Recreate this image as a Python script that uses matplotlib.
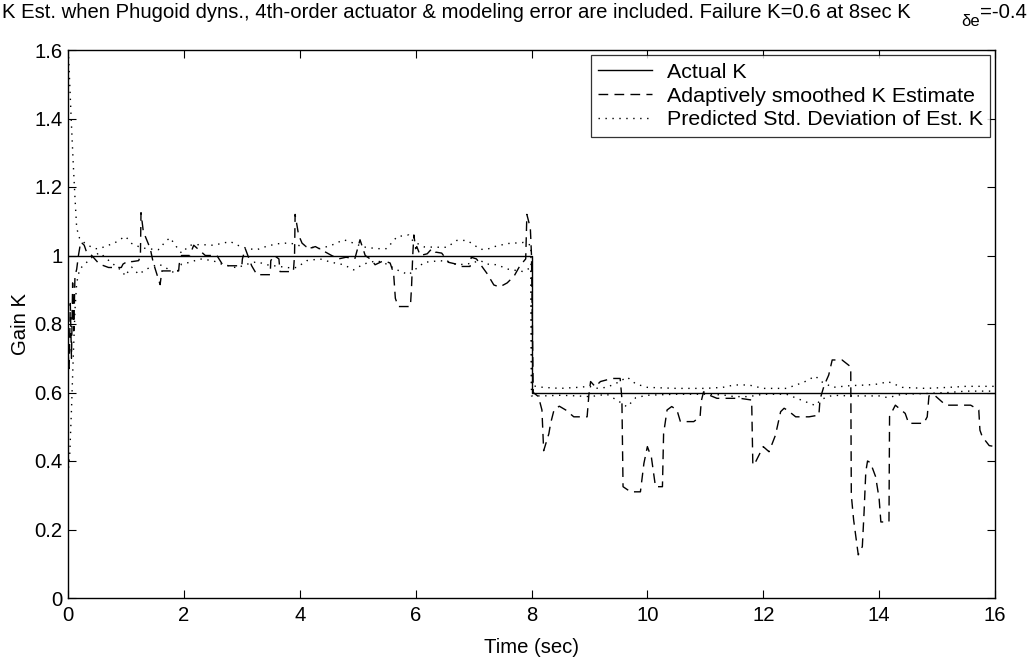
import matplotlib
matplotlib.use("Agg")
import matplotlib.pyplot as plt

plt.rcParams['font.family'] = ['Liberation Sans', 'DejaVu Sans']

# Actual gain: nominal 1.0, failure to 0.6 at t = 8 s
t_actual = [0.0, 8.0, 8.0, 16.0]
k_actual = [1.0, 1.0, 0.6, 0.6]

# Adaptively smoothed estimate of K
t_est = [0.00, 0.02, 0.04, 0.06, 0.08, 0.10, 0.12, 0.15, 0.18, 0.22, 0.28, 0.32,
         0.41, 0.54, 0.62, 0.70, 0.92, 0.95, 1.05, 1.10, 1.22, 1.25, 1.26, 1.30,
         1.42, 1.47, 1.59, 1.62, 1.91, 1.92, 1.96, 2.10, 2.17, 2.37, 2.57, 2.68,
         3.00, 3.01, 3.06, 3.17, 3.26, 3.49, 3.50, 3.56, 3.64, 3.66, 3.89, 3.91,
         3.92, 3.98, 4.04, 4.15, 4.27, 4.38, 4.55, 4.67, 4.80, 4.95, 5.04, 5.13,
         5.24, 5.30, 5.45, 5.56, 5.62, 5.65, 5.70, 5.91, 5.93, 5.95, 5.97, 6.00,
         6.02, 6.08, 6.20, 6.28, 6.34, 6.45, 6.57, 6.70, 6.77, 6.94, 6.96, 7.05,
         7.23, 7.35, 7.45, 7.58, 7.70, 7.80, 7.90, 7.92, 7.98, 8.00, 8.03, 8.12,
         8.18, 8.21, 8.30, 8.33, 8.39, 8.48, 8.59, 8.73, 8.96, 8.99, 9.02, 9.10,
         9.19, 9.39, 9.53, 9.56, 9.58, 9.71, 9.88, 9.94, 10.00, 10.07, 10.14, 10.26,
         10.28, 10.34, 10.42, 10.51, 10.57, 10.80, 10.91, 10.93, 10.97, 11.10, 11.20, 11.43,
         11.60, 11.80, 11.82, 11.84, 12.00, 12.10, 12.21, 12.30, 12.36, 12.42, 12.56, 12.79,
         12.96, 12.98, 13.05, 13.13, 13.19, 13.36, 13.51, 13.52, 13.56, 13.64, 13.71, 13.74,
         13.77, 13.80, 13.85, 13.94, 14.00, 14.03, 14.17, 14.18, 14.28, 14.45, 14.51, 14.77,
         14.83, 14.86, 14.95, 15.15, 15.35, 15.58, 15.72, 15.74, 15.78, 15.90, 16.00]
k_est = [0.72, 0.67, 0.86, 0.70, 0.92, 0.78, 0.94, 0.96, 1.00, 1.04, 1.03, 1.01,
         1.00, 0.975, 0.970, 0.965, 0.965, 0.975, 0.985, 0.982, 0.985, 1.00, 1.125, 1.07,
         1.02, 0.98, 0.915, 0.955, 0.955, 0.975, 1.00, 1.00, 1.03, 1.00, 1.00, 0.97,
         0.97, 0.99, 1.02, 0.97, 0.944, 0.944, 0.985, 1.00, 0.99, 0.953, 0.953, 1.00,
         1.12, 1.06, 1.036, 1.02, 1.026, 1.016, 1.00, 0.99, 0.995, 0.99, 1.046, 1.00,
         0.987, 0.973, 0.985, 0.978, 0.948, 0.875, 0.851, 0.851, 0.91, 1.00, 1.06, 1.02,
         1.026, 1.00, 1.005, 1.02, 1.01, 1.007, 0.98, 0.975, 0.968, 0.968, 0.995, 0.99,
         0.948, 0.914, 0.908, 0.92, 0.94, 0.97, 0.99, 1.12, 1.08, 1.00, 0.60, 0.588,
         0.549, 0.43, 0.48, 0.51, 0.55, 0.56, 0.549, 0.529, 0.529, 0.593, 0.632, 0.617,
         0.632, 0.641, 0.641, 0.583, 0.325, 0.31, 0.31, 0.393, 0.442, 0.41, 0.325, 0.325,
         0.48, 0.549, 0.559, 0.549, 0.515, 0.515, 0.529, 0.575, 0.602, 0.59, 0.583, 0.583,
         0.583, 0.578, 0.39, 0.388, 0.442, 0.427, 0.475, 0.544, 0.554, 0.548, 0.529, 0.529,
         0.534, 0.58, 0.62, 0.651, 0.695, 0.695, 0.675, 0.30, 0.228, 0.126, 0.15, 0.25,
         0.369, 0.40, 0.395, 0.354, 0.29, 0.222, 0.222, 0.53, 0.563, 0.539, 0.51, 0.51,
         0.529, 0.59, 0.593, 0.563, 0.563, 0.563, 0.549, 0.49, 0.471, 0.445, 0.442]

# Predicted standard-deviation envelope (upper and lower bounds)
t_std = [0.00, 0.03, 0.06, 0.09, 0.12, 0.15, 0.20, 0.29, 0.45, 0.55, 0.67, 0.78,
         0.93, 0.99, 1.07, 1.10, 1.22, 1.35, 1.56, 1.68, 1.76, 1.87, 1.96, 2.10,
         2.28, 2.50, 2.65, 2.80, 2.91, 3.10, 3.26, 3.43, 3.60, 3.83, 3.95, 4.12,
         4.35, 4.55, 4.76, 4.93, 5.10, 5.33, 5.50, 5.68, 5.88, 5.96, 6.15, 6.42,
         6.54, 6.71, 6.89, 7.12, 7.23, 7.40, 7.60, 7.86, 7.99, 8.00, 8.20, 8.50,
         8.80, 9.00, 9.10, 9.30, 9.50, 9.65, 9.80, 10.00, 10.50, 11.00, 11.30, 11.50,
         11.75, 12.00, 12.40, 12.70, 12.90, 13.00, 13.20, 13.50, 13.80, 14.00, 14.15, 14.40,
         14.80, 15.20, 15.50, 15.80, 16.00]
k_std_hi = [1.62, 1.50, 1.38, 1.27, 1.17, 1.08, 1.05, 1.036, 1.02, 1.02, 1.029, 1.034,
            1.05, 1.056, 1.041, 1.035, 1.026, 1.02, 1.017, 1.04, 1.052, 1.026, 1.007, 1.03,
            1.032, 1.03, 1.035, 1.041, 1.031, 1.02, 1.017, 1.027, 1.034, 1.037, 1.03, 1.026,
            1.02, 1.03, 1.046, 1.036, 1.025, 1.02, 1.02, 1.055, 1.06, 1.041, 1.025, 1.024,
            1.024, 1.044, 1.044, 1.018, 1.018, 1.028, 1.035, 1.038, 1.03, 0.62, 0.615, 0.612,
            0.615, 0.618, 0.612, 0.615, 0.63, 0.645, 0.625, 0.615, 0.612, 0.612, 0.615, 0.622,
            0.622, 0.612, 0.612, 0.63, 0.648, 0.632, 0.615, 0.62, 0.622, 0.625, 0.632, 0.615,
            0.612, 0.615, 0.618, 0.618, 0.618]
k_std_lo = [0.36, 0.42, 0.55, 0.70, 0.84, 0.92, 0.96, 0.975, 1.00, 1.008, 0.99, 0.975,
            0.955, 0.94, 0.962, 0.966, 0.945, 0.96, 0.975, 0.966, 0.955, 0.948, 0.975, 0.98,
            0.99, 0.985, 0.975, 0.969, 0.964, 0.975, 0.982, 0.973, 0.969, 0.964, 0.965, 0.985,
            0.99, 0.98, 0.973, 0.958, 0.975, 0.985, 0.975, 0.958, 0.944, 0.955, 0.98, 0.985,
            0.982, 0.973, 0.975, 0.985, 0.975, 0.973, 0.96, 0.953, 0.965, 0.59, 0.59, 0.592,
            0.59, 0.588, 0.59, 0.595, 0.575, 0.558, 0.585, 0.592, 0.595, 0.595, 0.593, 0.588,
            0.588, 0.595, 0.595, 0.575, 0.562, 0.58, 0.592, 0.59, 0.59, 0.59, 0.585, 0.595,
            0.597, 0.60, 0.604, 0.604, 0.604]

x_ticks = [0, 2, 4, 6, 8, 10, 12, 14, 16]
y_ticks = [0, 0.2, 0.4, 0.6, 0.8, 1.0, 1.2, 1.4, 1.6]
y_tick_labels = ['0', '0.2', '0.4', '0.6', '0.8', '1', '1.2', '1.4', '1.6']
x_tick_labels = ['0', '2', '4', '6', '8', '10', '12', '14', '16']

FS = 14.6
W, H = 1029, 660
fig = plt.figure(figsize=(W / 100, H / 100), dpi=100)
ax = fig.add_axes([68 / W, 1 - 598 / H, 927 / W, 548 / H])

lw = 1.0
ax.plot(t_actual, k_actual, color='black', lw=lw, label='Actual K')
ax.plot(t_est, k_est, color='black', lw=lw, linestyle=(0, (7, 4.5)),
        label='Adaptively smoothed K Estimate')
ax.plot(t_std, k_std_hi, color='black', lw=lw, linestyle=(0, (1, 4)),
        label='Predicted Std. Deviation of Est. K')
ax.plot(t_std, k_std_lo, color='black', lw=lw, linestyle=(0, (1, 4)))

ax.set_xlim(0, 16)
ax.set_ylim(0, 1.6)
ax.set_xticks(x_ticks)
ax.set_xticklabels(x_tick_labels)
ax.set_yticks(y_ticks)
ax.set_yticklabels(y_tick_labels)
ax.tick_params(direction='in', top=True, right=True, length=6, width=0.8,
               labelsize=FS, colors='black')
ax.tick_params(axis='y', pad=4)
ax.tick_params(axis='x', pad=6)
for s in ax.spines.values():
    s.set_linewidth(1.0)

ax.set_xlabel('Time (sec)', fontsize=FS, labelpad=9)
ax.set_ylabel('Gain K', fontsize=FS, labelpad=3)

leg = ax.legend(loc='upper right', bbox_to_anchor=(0.995, 0.990), borderaxespad=0,
                fontsize=15.4, frameon=True, fancybox=False, handlelength=2.5,
                handletextpad=0.7, borderpad=0.35, labelspacing=0.22)
leg.get_frame().set_edgecolor('black')
leg.get_frame().set_linewidth(0.9)

# Title line with subscripted K
title_main = ('K Est. when Phugoid dyns., 4th-order actuator & modeling error are '
              'included. Failure K=0.6 at 8sec K')
fig.text(2 / W, 1 - 13 / H, title_main, ha='left', va='center', fontsize=FS)
t3 = fig.text(1027 / W, 1 - 12 / H, '=-0.4', ha='right', va='center', fontsize=FS)
fig.canvas.draw()
r = fig.canvas.get_renderer()
bb3 = t3.get_window_extent(r)
fig.text(bb3.x0 / W, 1 - 21 / H, 'δe', ha='right', va='center', fontsize=12)

fig.savefig('out.png', dpi=100)
